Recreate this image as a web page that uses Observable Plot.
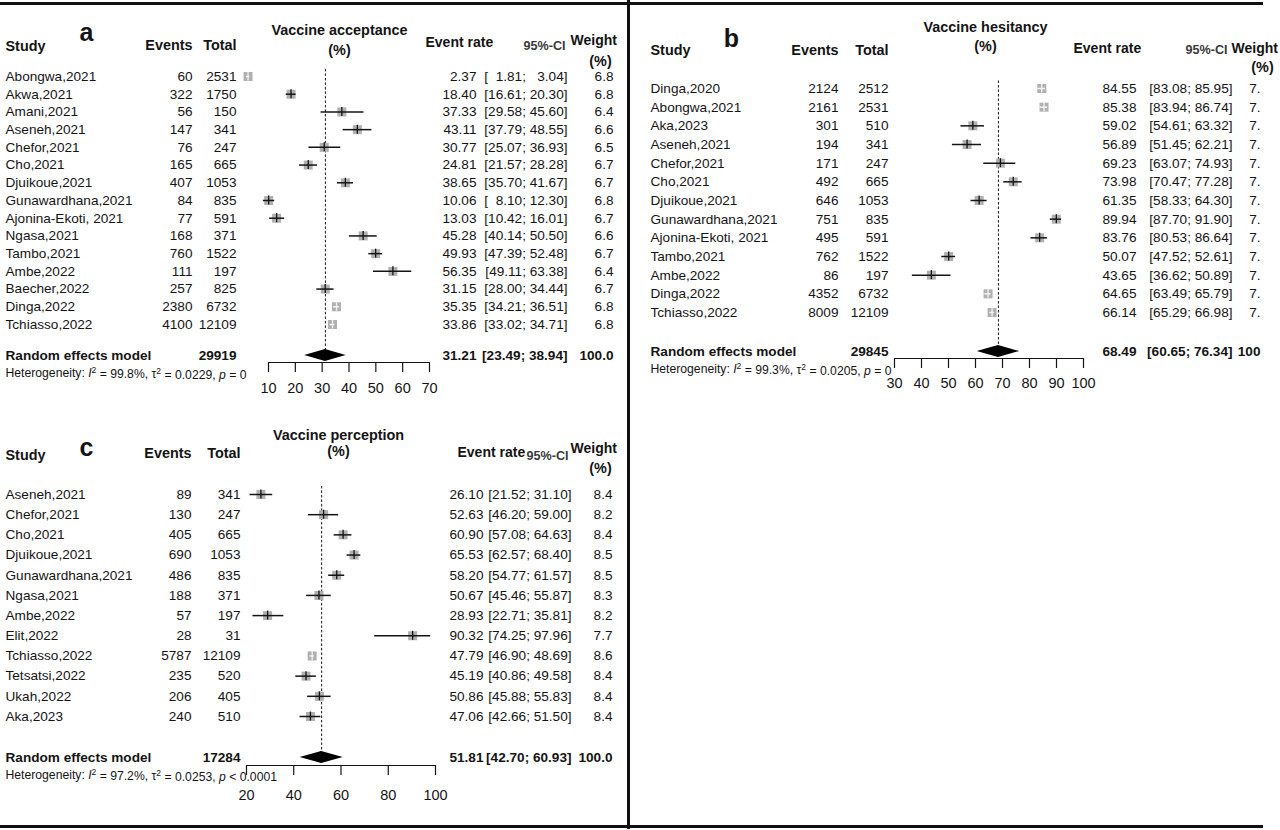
<!DOCTYPE html>
<html><head><meta charset="utf-8">
<script src="https://cdn.jsdelivr.net/npm/d3@7"></script>
<script src="https://cdn.jsdelivr.net/npm/@observablehq/plot@0.6"></script>
<style>
body{margin:0;background:#fff;}
#fig{position:relative;width:1280px;height:830px;overflow:hidden;font-family:"Liberation Sans",Arial,sans-serif;background:#fff;}
.panel{position:absolute;}
.panel svg{overflow:visible;}
.line{position:absolute;background:#111;}
</style></head><body><div id="fig"></div>
<script>
// ---------- Panel a: Vaccine acceptance ----------
const studiesA = ["Abongwa,2021","Akwa,2021","Amani,2021","Aseneh,2021","Chefor,2021","Cho,2021","Djuikoue,2021","Gunawardhana,2021","Ajonina-Ekoti, 2021","Ngasa,2021","Tambo,2021","Ambe,2022","Baecher,2022","Dinga,2022","Tchiasso,2022"];
const eventsA = [60,322,56,147,76,165,407,84,77,168,760,111,257,2380,4100];
const totalA  = [2531,1750,150,341,247,665,1053,835,591,371,1522,197,825,6732,12109];
const rateA   = [2.37,18.40,37.33,43.11,30.77,24.81,38.65,10.06,13.03,45.28,49.93,56.35,31.15,35.35,33.86];
const lowerA  = [1.81,16.61,29.58,37.79,25.07,21.57,35.70,8.10,10.42,40.14,47.39,49.11,28.00,34.21,33.02];
const upperA  = [3.04,20.30,45.60,48.55,36.93,28.28,41.67,12.30,16.01,50.50,52.48,63.38,34.44,36.51,34.71];
const weightA = ["6.8","6.8","6.4","6.6","6.5","6.7","6.7","6.8","6.7","6.6","6.7","6.4","6.7","6.8","6.8"];
const pooledA = {total:29919, rate:31.21, lower:23.49, upper:38.94, weight:"100.0"};
const hetA = {i2:"99.8%", tau2:"0.0229", p:"= 0"};
const ticksA = [10,20,30,40,50,60,70];

// ---------- Panel b: Vaccine hesitancy ----------
const studiesB = ["Dinga,2020","Abongwa,2021","Aka,2023","Aseneh,2021","Chefor,2021","Cho,2021","Djuikoue,2021","Gunawardhana,2021","Ajonina-Ekoti, 2021","Tambo,2021","Ambe,2022","Dinga,2022","Tchiasso,2022"];
const eventsB = [2124,2161,301,194,171,492,646,751,495,762,86,4352,8009];
const totalB  = [2512,2531,510,341,247,665,1053,835,591,1522,197,6732,12109];
const rateB   = [84.55,85.38,59.02,56.89,69.23,73.98,61.35,89.94,83.76,50.07,43.65,64.65,66.14];
const lowerB  = [83.08,83.94,54.61,51.45,63.07,70.47,58.33,87.70,80.53,47.52,36.62,63.49,65.29];
const upperB  = [85.95,86.74,63.32,62.21,74.93,77.28,64.30,91.90,86.64,52.61,50.89,65.79,66.98];
const weightB = ["7.","7.","7.","7.","7.","7.","7.","7.","7.","7.","7.","7.","7."];
const pooledB = {total:29845, rate:68.49, lower:60.65, upper:76.34, weight:"100"};
const hetB = {i2:"99.3%", tau2:"0.0205", p:"= 0"};
const ticksB = [30,40,50,60,70,80,90,100];

// ---------- Panel c: Vaccine perception ----------
const studiesC = ["Aseneh,2021","Chefor,2021","Cho,2021","Djuikoue,2021","Gunawardhana,2021","Ngasa,2021","Ambe,2022","Elit,2022","Tchiasso,2022","Tetsatsi,2022","Ukah,2022","Aka,2023"];
const eventsC = [89,130,405,690,486,188,57,28,5787,235,206,240];
const totalC  = [341,247,665,1053,835,371,197,31,12109,520,405,510];
const rateC   = [26.10,52.63,60.90,65.53,58.20,50.67,28.93,90.32,47.79,45.19,50.86,47.06];
const lowerC  = [21.52,46.20,57.08,62.57,54.77,45.46,22.71,74.25,46.90,40.86,45.88,42.66];
const upperC  = [31.10,59.00,64.63,68.40,61.57,55.87,35.81,97.96,48.69,49.58,55.83,51.50];
const weightC = ["8.4","8.2","8.4","8.5","8.5","8.3","8.2","7.7","8.6","8.4","8.4","8.4"];
const pooledC = {total:17284, rate:51.81, lower:42.70, upper:60.93, weight:"100.0"};
const hetC = {i2:"97.2%", tau2:"0.0253", p:"< 0.0001"};
const ticksC = [20,40,60,80,100];

const fig = document.getElementById("fig");
const FONT = "'Liberation Sans', Arial, sans-serif";
const INK = "#141414";

function forest(cfg, L) {
  const n = cfg.studies.length;
  const step = (L.rowLast - L.row0) / (n - 1);
  const yr = px => (px - L.row0) / step;
  const rows = cfg.studies.map((s, i) => ({row:i, study:s, events:cfg.events[i], total:cfg.total[i],
    rate:cfg.rate[i], lower:cfg.lower[i], upper:cfg.upper[i], weight:cfg.weight[i]}));
  const t0 = cfg.ticks[0], t1 = cfg.ticks[cfg.ticks.length - 1];
  const pxPerUnit = (L.xRange[1] - L.xRange[0]) / (t1 - t0);
  const side = 9;
  const narrow = d => (d.upper - d.lower) * pxPerUnit < side;
  const lineColor = d => narrow(d) ? "#f4f4f4" : INK;
  const fmt = v => v.toFixed(2).padStart(5, "\u2007");
  const ci = (lo, hi) => `[${fmt(lo)}; ${fmt(hi)}]`;
  const P = cfg.pooled;
  const pr = yr(L.pooledY);
  const dh = 6 / step, th = 4.5 / step;
  const diamond = [{y:pr - dh, x1:P.rate, x2:P.rate}, {y:pr, x1:P.lower, x2:P.upper}, {y:pr + dh, x1:P.rate, x2:P.rate}];
  const fs = 13.6;
  const col = (fn, dx, anchor, extra = {}) => Plot.text(rows, {y:"row", text:fn, frameAnchor:"left", dx, textAnchor:anchor, lineAnchor:"middle", fontSize:fs, fill:INK, ...extra});
  const one = (txt, x, y, anchor, extra = {}) => Plot.text([txt], {y:yr(y), frameAnchor:"left", dx:x, textAnchor:anchor, lineAnchor:"middle", fontSize:fs, fill:INK, ...extra});
  const B = {fontWeight:"bold"};
  const HB = {fontWeight:"bold", fontSize:14.4};
  const H = L.head;
  const marks = [
    Plot.ruleX([P.rate], {y1:-0.4, y2:pr, stroke:INK, strokeWidth:1, strokeDasharray:"2.5,2"}),
    Plot.dot(rows, {x:"rate", y:"row", symbol:"square", r:side / Math.sqrt(Math.PI), fill:"#b0b0b0"}),
    Plot.ruleY(rows, {y:"row", x1:"lower", x2:"upper", stroke:lineColor, strokeWidth:1.5}),
    Plot.ruleX(rows, {x:"rate", y1:d => d.row - th, y2:d => d.row + th, stroke:lineColor, strokeWidth:1.3}),
    Plot.areaX(diamond, {y:"y", x1:"x1", x2:"x2", fill:"#000"}),
    Plot.ruleY([yr(L.axisY)], {x1:t0, x2:t1, stroke:INK, strokeWidth:1.2}),
    Plot.axisX(cfg.ticks, {tickSize:10, tickPadding:L.tickPad, fontSize:14.5, label:null, stroke:INK, fill:INK, strokeWidth:1.2}),
    col(d => d.study, L.studyX, "start"),
    col(d => String(d.events), L.eventsX, "end"),
    col(d => String(d.total), L.totalX, "end"),
    col(d => d.rate.toFixed(2), L.rateX, "end"),
    col(d => ci(d.lower, d.upper), L.ciX, "end"),
    col(d => d.weight, L.weightX, "end"),
    one("Random effects model", L.studyX, L.pooledY, "start", B),
    one(String(P.total), L.totalX, L.pooledY, "end", B),
    one(P.rate.toFixed(2), L.rateX, L.pooledY, "end", B),
    one(ci(P.lower, P.upper), L.ciX, L.pooledY, "end", B),
    one(P.weight, L.weightX, L.pooledY, "end", B),
    one("Heterogeneity", L.studyX, L.hetY, "start", {fontSize:12.2, className:"het"}),
    // headers
    one(cfg.letter, H.letter[0], H.letter[1], "middle", {fontWeight:"bold", fontSize:25}),
    one("Study", L.studyX, H.study, "start", HB),
    one("Events", L.eventsX, H.cols, "end", HB),
    one("Total", L.totalX, H.cols, "end", HB),
    one(cfg.title, H.title[0], H.title[1], "middle", HB),
    one("(%)", H.title[0], H.title[2], "middle", HB),
    one("Event rate", H.rate[0], H.rate[1], "start", {fontWeight:"bold", fontSize:14}),
    one("95%-CI", H.ci[0], H.ci[1], "end", {fontWeight:"bold", fontSize:12.6, fill:"#3a3a3a"}),
    one("Weight", H.weight[0], H.weight[1], "start", {fontWeight:"bold", fontSize:14}),
    one("(%)", H.weight[2], H.weight[3], "middle", HB)
  ];
  const svg = Plot.plot({
    width:L.width, height:L.height,
    marginLeft:0, marginRight:0, marginTop:0, marginBottom:L.height - L.axisY,
    style:{fontFamily:FONT, background:"transparent", overflow:"visible"},
    x:{type:"linear", domain:[t0, t1], range:L.xRange},
    y:{type:"linear", domain:[0, n - 1], range:[L.row0, L.rowLast], axis:null},
    marks
  });
  // rich heterogeneity text (italic I, p and superscripts)
  const het = d3.select(svg).select(".het text");
  het.text(null);
  const parts = [["Heterogeneity: ", ""], ["I", "i"], ["2", "s"], [" = " + cfg.het.i2 + ", ", "b"], ["\u03c4", ""], ["2", "s"], [" = " + cfg.het.tau2 + ", ", "b"], ["p", "i"], [" " + cfg.het.p, ""]];
  for (const [t, k] of parts) {
    const ts = het.append("tspan").text(t);
    if (k === "i") ts.attr("font-style", "italic");
    if (k === "s") ts.attr("font-size", 8.5).attr("dy", "-0.55em");
    if (k === "b") ts.attr("dy", "0.45em");
  }
  const div = document.createElement("div");
  div.className = "panel";
  div.style.left = L.left + "px"; div.style.top = L.top + "px";
  div.appendChild(svg);
  fig.appendChild(div);
}

forest({letter:"a", title:"Vaccine acceptance", studies:studiesA, events:eventsA, total:totalA, rate:rateA, lower:lowerA, upper:upperA, weight:weightA, pooled:pooledA, het:hetA, ticks:ticksA},
  {left:0, top:0, width:627, height:415, xRange:[268, 429], row0:76, rowLast:324, pooledY:355, hetY:373, axisY:362, tickPad:10,
   studyX:5, eventsX:192, totalX:236, rateX:476, ciX:567, weightX:613,
   head:{letter:[86, 32], study:46, cols:45, title:[339, 30, 50], rate:[425, 42], ci:[565, 45], weight:[570, 40, 600, 61]}});

forest({letter:"b", title:"Vaccine hesitancy", studies:studiesB, events:eventsB, total:totalB, rate:rateB, lower:lowerB, upper:upperB, weight:weightB, pooled:pooledB, het:hetB, ticks:ticksB},
  {left:630, top:0, width:650, height:415, xRange:[264, 453], row0:88, rowLast:312, pooledY:351, hetY:369, axisY:358, tickPad:9,
   studyX:20, eventsX:208, totalX:258, rateX:506, ciX:602, weightX:630,
   head:{letter:[101, 38], study:50, cols:50, title:[355, 27, 46], rate:[443, 48], ci:[597, 49], weight:[601, 48, 632, 67]}});

forest({letter:"c", title:"Vaccine perception", studies:studiesC, events:eventsC, total:totalC, rate:rateC, lower:lowerC, upper:upperC, weight:weightC, pooled:pooledC, het:hetC, ticks:ticksC},
  {left:0, top:415, width:627, height:415, xRange:[246, 435], row0:79, rowLast:301, pooledY:342, hetY:360, axisY:350, tickPad:14,
   studyX:5, eventsX:191, totalX:240, rateX:483, ciX:571, weightX:612,
   head:{letter:[86, 32], study:40, cols:38, title:[338, 20, 36], rate:[457, 37], ci:[568, 40], weight:[570, 33, 600, 53]}});

// figure frame lines
for (const [l, t, w, h] of [[0, 2, 1263, 3], [627, 0, 3, 829], [0, 825, 1263, 3]]) {
  const d = document.createElement("div");
  d.className = "line";
  Object.assign(d.style, {left:l + "px", top:t + "px", width:w + "px", height:h + "px"});
  fig.appendChild(d);
}
</script></body></html>
